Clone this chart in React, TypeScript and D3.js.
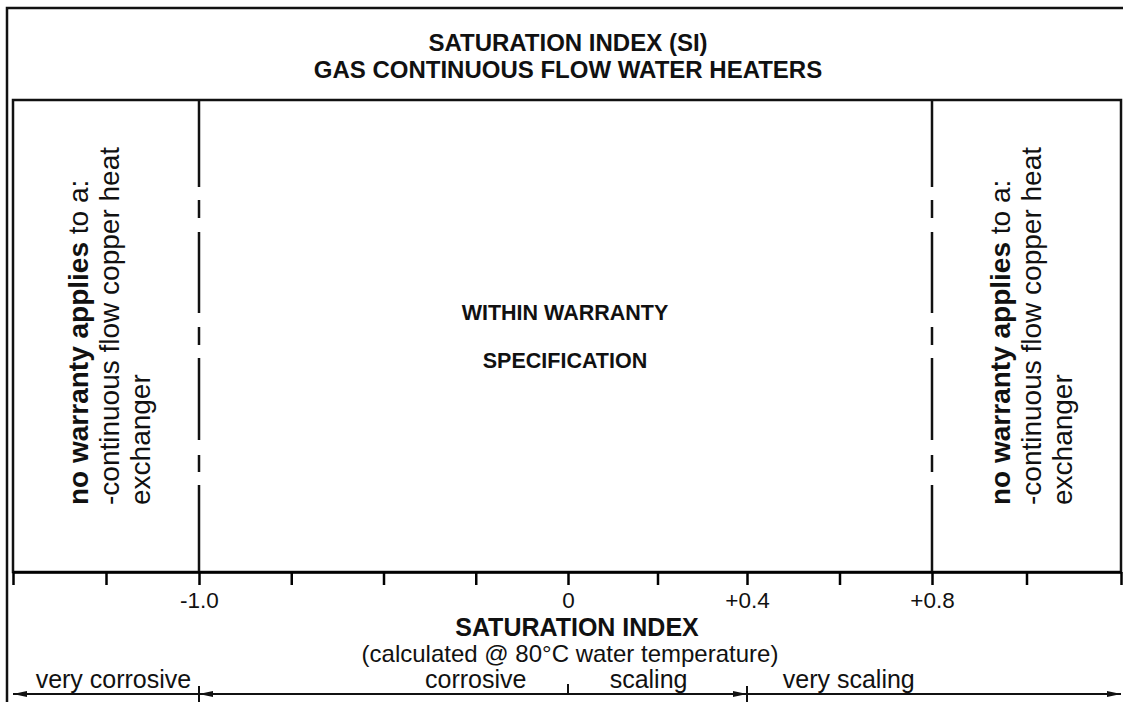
import React, { useEffect, useRef } from 'react';
import * as d3 from 'd3';

// saturation index scale - the drawing is not linear, so it is piecewise
const siBreaks = [-1.5, -1, 0, 0.4, 0.8, 1.2];
const siPixels = [13, 199, 568, 747, 932, 1121];
const tickValues = [-1.5, -1.25, -1, -0.75, -0.5, -0.25, 0, 0.2, 0.4, 0.6, 0.8, 1.0, 1.2];
const labelledTicks = [-1, 0, 0.4, 0.8];
const tickLabels = ['-1.0', '0', '+0.4', '+0.8'];
const warrantyLimits = [-1, 0.8];

// bottom band: zone labels and where they sit
const zoneNames = ['very corrosive', 'corrosive', 'scaling', 'very scaling'];
const zoneLabelAt = [-1.23, -0.25, 0.18, 0.62];
const zoneArrows = [
  { from: -1.5, to: -1, start: true, end: false },
  { from: -1, to: 0.4, start: true, end: true },
  { from: 0.4, to: 1.2, start: false, end: true }
];
const zoneDividers = [-1, 0.4];
const zoneSplit = [0];

const titleLines = ['SATURATION INDEX (SI)', 'GAS CONTINUOUS FLOW WATER HEATERS'];
const middleLines = ['WITHIN WARRANTY', 'SPECIFICATION'];
const sideBold = 'no warranty applies';
const sideRest = [' to a:', '-continuous flow copper heat', 'exchanger'];

const FONT = '"Liberation Sans", Arial, sans-serif';
const axisY = 572;
const boxTop = 100;
const bandY = 694;

export default function App() {
  const axisRef = useRef(null);

  const x = d3.scaleLinear().domain(siBreaks).range(siPixels);

  useEffect(() => {
    const fmt = (d) => {
      const i = labelledTicks.indexOf(d);
      return i < 0 ? '' : tickLabels[i];
    };
    const axis = d3
      .axisBottom(x)
      .tickValues(tickValues)
      .tickSize(13)
      .tickSizeOuter(0)
      .tickPadding(7)
      .tickFormat(fmt);
    const g = d3.select(axisRef.current);
    g.selectAll('*').remove();
    g.call(axis);
    g.select('.domain').attr('stroke-width', 2.5);
    g.selectAll('.tick line').attr('stroke-width', 2.5);
    g.selectAll('.tick text')
      .attr('font-family', FONT)
      .attr('font-size', 22.5)
      .attr('fill', '#111');
  }, []);

  const limitDash = '87,13,18,14,81,14,18,13,82,15,17,13,87';

  const sideText = (cx, key) => (
    <g key={key} transform={`translate(${cx},505) rotate(-90)`}>
      <text x={0} y={0} fontFamily={FONT} fontSize={28} fill="#111">
        <tspan fontWeight="bold">{sideBold}</tspan>
        <tspan>{sideRest[0]}</tspan>
      </text>
      <text x={0} y={31} fontFamily={FONT} fontSize={28} fill="#111">{sideRest[1]}</text>
      <text x={0} y={62} fontFamily={FONT} fontSize={28} fill="#111">{sideRest[2]}</text>
    </g>
  );

  return (
    <svg
      width={1123}
      height={702}
      style={{ position: 'absolute', left: 0, top: 0, background: '#fff' }}
    >
      <defs>
        <marker id="headEnd" viewBox="0 0 14 6" refX={14} refY={3} markerWidth={14} markerHeight={6} markerUnits="userSpaceOnUse" orient="auto">
          <path d="M0,0 L14,3 L0,6 Z" fill="#111" />
        </marker>
        <marker id="headStart" viewBox="0 0 14 6" refX={0} refY={3} markerWidth={14} markerHeight={6} markerUnits="userSpaceOnUse" orient="auto">
          <path d="M14,0 L0,3 L14,6 Z" fill="#111" />
        </marker>
      </defs>

      {/* outer frame and title */}
      <rect x={7} y={8} width={1125} height={720} fill="none" stroke="#111" strokeWidth={2.5} />
      {titleLines.map((t, i) => (
        <text key={t} x={568} y={51 + i * 27} textAnchor="middle" fontFamily={FONT} fontWeight="bold" fontSize={24} fill="#111">
          {t}
        </text>
      ))}

      {/* chart box */}
      <rect x={x(siBreaks[0])} y={boxTop} width={x(siBreaks[siBreaks.length - 1]) - x(siBreaks[0])} height={axisY - boxTop} fill="none" stroke="#111" strokeWidth={2.5} />

      {warrantyLimits.map((v) => (
        <line key={v} x1={x(v)} x2={x(v)} y1={boxTop} y2={axisY} stroke="#111" strokeWidth={2.5} strokeDasharray={limitDash} />
      ))}

      {middleLines.map((t, i) => (
        <text key={t} x={565} y={320 + i * 48} textAnchor="middle" fontFamily={FONT} fontWeight="bold" fontSize={21.5} fill="#111">
          {t}
        </text>
      ))}

      {sideText(88, 'left')}
      {sideText(1010, 'right')}

      <g ref={axisRef} transform={`translate(0,${axisY})`} />

      <text x={577} y={636} textAnchor="middle" fontFamily={FONT} fontWeight="bold" fontSize={25} fill="#111">SATURATION INDEX</text>
      <text x={570} y={662} textAnchor="middle" fontFamily={FONT} fontSize={24} fill="#111">(calculated @ 80°C water temperature)</text>

      {/* zone band */}
      {zoneArrows.map((a, i) => (
        <line
          key={i}
          x1={x(a.from)}
          x2={x(a.to)}
          y1={bandY}
          y2={bandY}
          stroke="#111"
          strokeWidth={2}
          markerStart={a.start ? 'url(#headStart)' : undefined}
          markerEnd={a.end ? 'url(#headEnd)' : undefined}
        />
      ))}
      {zoneDividers.map((v) => (
        <line key={v} x1={x(v)} x2={x(v)} y1={bandY - 8} y2={702} stroke="#111" strokeWidth={2} />
      ))}
      {zoneSplit.map((v) => (
        <line key={v} x1={x(v)} x2={x(v)} y1={bandY - 10} y2={bandY} stroke="#111" strokeWidth={2} />
      ))}
      {zoneNames.map((n, i) => (
        <text key={n} x={x(zoneLabelAt[i])} y={688} textAnchor="middle" fontFamily={FONT} fontSize={25} fill="#111">
          {n}
        </text>
      ))}
    </svg>
  );
}
